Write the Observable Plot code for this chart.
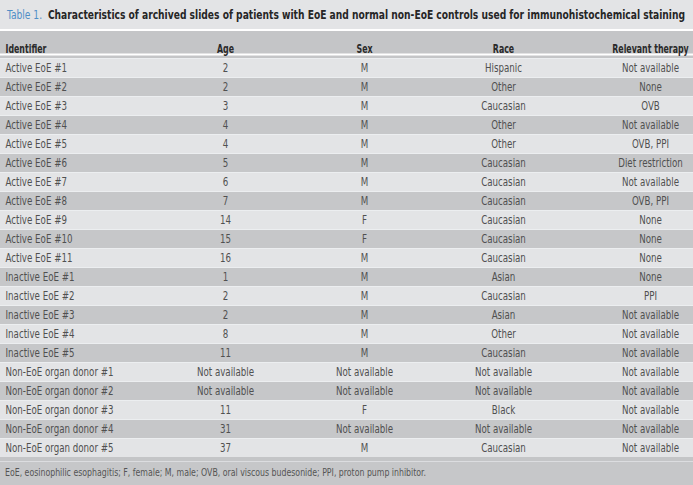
<!DOCTYPE html>
<html><head><meta charset="utf-8">
<script src="https://cdn.jsdelivr.net/npm/d3@7"></script>
<script src="https://cdn.jsdelivr.net/npm/@observablehq/plot@0.6"></script>
<style>
body{margin:0;width:693px;height:485px;overflow:hidden;background:#e3e4e6;font-family:"DejaVu Sans Condensed","DejaVu Sans",sans-serif;}
#title{height:29px;background:#e3e4e6;border-bottom:2px solid #fff;font-size:12px;line-height:30px;padding-left:7px;color:#262626;white-space:nowrap;overflow:hidden;}
#title .wrap{display:inline-block;transform-origin:0 50%;}
#title .lab{color:#4f8fc6;font-weight:normal;}
#title .txt{font-weight:bold;}
#chart svg{display:block;}
#foot{height:23px;background:#c6c7c9;border-top:1px solid #dcdde0;font-size:10px;line-height:22px;padding-left:5px;color:#555;white-space:nowrap;overflow:hidden;}
#foot .wrap{display:inline-block;transform-origin:0 50%;}
</style></head><body>
<div id="title"><span class="wrap"><span class="lab">Table 1.</span>&nbsp; <span class="txt">Characteristics of archived slides of patients with EoE and normal non-EoE controls used for immunohistochemical staining</span></span></div>
<div id="chart"></div>
<div id="foot"><span class="wrap">EoE, eosinophilic esophagitis; F, female; M, male; OVB, oral viscous budesonide; PPI, proton pump inhibitor.</span></div>
<script>
const NA = "Not available";
const headers = ["Identifier", "Age", "Sex", "Race", "Relevant therapy"];
const identifiers = [
  "Active EoE #1","Active EoE #2","Active EoE #3","Active EoE #4","Active EoE #5","Active EoE #6",
  "Active EoE #7","Active EoE #8","Active EoE #9","Active EoE #10","Active EoE #11",
  "Inactive EoE #1","Inactive EoE #2","Inactive EoE #3","Inactive EoE #4","Inactive EoE #5",
  "Non-EoE organ donor #1","Non-EoE organ donor #2","Non-EoE organ donor #3","Non-EoE organ donor #4","Non-EoE organ donor #5"
];
const ages = ["2","2","3","4","4","5","6","7","14","15","16","1","2","2","8","11",NA,NA,"11","31","37"];
const sexes = ["M","M","M","M","M","M","M","M","F","F","M","M","M","M","M","M",NA,NA,"F",NA,"M"];
const races = ["Hispanic","Other","Caucasian","Other","Other","Caucasian","Caucasian","Caucasian","Caucasian","Caucasian","Caucasian",
  "Asian","Caucasian","Asian","Other","Caucasian",NA,NA,"Black",NA,"Caucasian"];
const therapies = [NA,"None","OVB",NA,"OVB, PPI","Diet restriction",NA,"OVB, PPI","None","None","None",
  "None","PPI",NA,NA,NA,NA,NA,NA,NA,NA];

// layout (not data): column anchor positions and alignment
const colX = {"Identifier": 5, "Age": 225, "Sex": 364, "Race": 503, "Relevant therapy": 650};
const anchorOf = h => h === "Identifier" ? "start" : "middle";

const columns = [identifiers, ages, sexes, races, therapies];
const rows = identifiers.map((id, i) => ({id, i}));
const cells = rows.flatMap(r => headers.map((h, j) => ({id: r.id, col: h, value: columns[j][r.i]})));
const headerCells = headers.map(h => ({col: h}));

const textMarks = ["start", "middle"].flatMap(a => [
  Plot.text(cells.filter(d => anchorOf(d.col) === a), {
    x: d => colX[d.col], y: "id", text: "value", textAnchor: a,
    fill: "#505050", fontSize: 11.5
  }),
  Plot.text(headerCells.filter(d => anchorOf(d.col) === a), {
    x: d => colX[d.col], text: "col", frameAnchor: "top", dy: -10, textAnchor: a,
    fill: "#2a2a2a", fontSize: 11.5, fontWeight: "bold"
  })
]);

const plot = Plot.plot({
  width: 693, height: 430,
  marginTop: 23, marginBottom: 0, marginLeft: 0, marginRight: 0,
  x: {type: "identity", axis: null},
  y: {type: "band", domain: identifiers, padding: 0, axis: null},
  style: {background: "#c4c5c7", fontFamily: '"DejaVu Sans Condensed","DejaVu Sans",sans-serif'},
  marks: [
    Plot.cell(rows, {y: "id", fill: "#eceef0"}),
    Plot.cell(rows.filter(d => d.i % 2 === 0), {y: "id", fill: "#e3e4e6", insetTop: 1}),
    Plot.cell(rows.filter(d => d.i % 2 === 1), {y: "id", fill: "#c6c7c9", insetTop: 1}),
    Plot.frame({anchor: "top", stroke: "#ffffff", strokeWidth: 2}),
    ...textMarks
  ]
});
document.getElementById("chart").appendChild(plot);

// condensed typeface emulation: compress glyphs horizontally about each text's anchor
plot.querySelectorAll("text").forEach(t => {
  const bold = +getComputedStyle(t).fontWeight >= 600;
  const f = bold ? 0.76 : 0.84;
  const tr = t.getAttribute("transform");
  if (tr && !t.hasAttribute("x")) {
    t.setAttribute("transform", `${tr} scale(${f},1)`);
  } else {
    t.setAttribute("textLength", (t.getComputedTextLength() * f).toFixed(2));
    t.setAttribute("lengthAdjust", "spacingAndGlyphs");
  }
});
function fit(sel, target) {
  const el = document.querySelector(sel);
  const w = el.getBoundingClientRect().width;
  el.style.transform = `scaleX(${target / w})`;
}
fit("#title .wrap", 678);
fit("#foot .wrap", 421);
</script>
</body></html>
